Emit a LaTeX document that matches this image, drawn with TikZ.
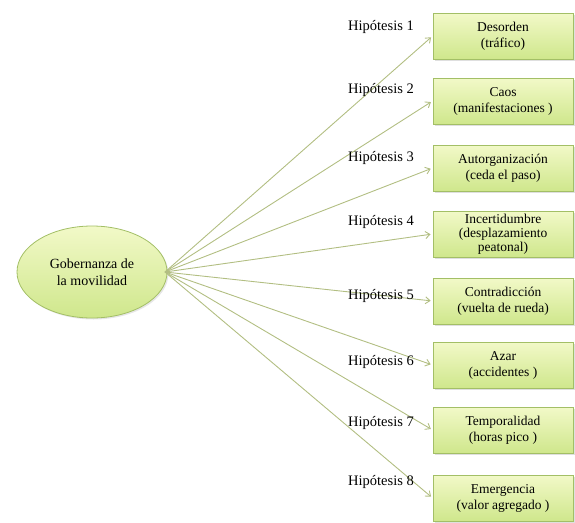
\documentclass[tikz,border=0pt]{standalone}
\usepackage{fontspec}
\setmainfont{Liberation Serif}
\usetikzlibrary{arrows.meta,shadows,shapes.geometric}
\definecolor{boxtop}{HTML}{F2F9C8}
\definecolor{boxbot}{HTML}{CFE78C}
\definecolor{boxline}{HTML}{A3BF66}
\definecolor{arrowc}{HTML}{B2BE82}
\tikzset{
  hbox/.style={draw=boxline, line width=0.8pt, top color=boxtop, bottom color=boxbot,
    minimum width=140pt, minimum height=46pt, inner sep=1pt, align=center,
    font=\fontsize{13.5}{16}\selectfont,
    drop shadow={shadow xshift=1.5pt, shadow yshift=-1.5pt, opacity=0.25, fill=gray}},
  hlabel/.style={font=\fontsize{14.5}{16}\selectfont, inner sep=0pt},
  harrow/.style={draw=arrowc, line width=0.9pt, -{Straight Barb[length=4.5pt,width=7pt]}, shorten >=2pt},
  gov/.style={ellipse, draw=boxline, line width=0.8pt, top color=boxtop, bottom color=boxbot,
    minimum width=150pt, minimum height=92pt, align=center, inner sep=0pt,
    font=\fontsize{14}{17}\selectfont,
    drop shadow={shadow xshift=1.5pt, shadow yshift=-1.5pt, opacity=0.2, fill=gray}}
}
\begin{document}
\begin{tikzpicture}[x=1pt,y=-1pt]
\useasboundingbox (0,0) rectangle (575,522);
\node[gov] (g) at (92,272) {Gobernanza de\\la movilidad};
\node[hbox] (b1) at (503,36) {Desorden\\(tráfico)};
\node[hbox] (b2) at (503,101) {Caos\\(manifestaciones )};
\node[hbox] (b3) at (503,168) {Autorganización\\(ceda el paso)};
\node[hbox,font=\fontsize{13.5}{14}\selectfont] (b4) at (503,234) {Incertidumbre\\(desplazamiento\\peatonal)};
\node[hbox] (b5) at (503,301) {Contradicción\\(vuelta de rueda)};
\node[hbox] (b6) at (503,365) {Azar\\(accidentes )};
\node[hbox] (b7) at (503,430) {Temporalidad\\(horas pico )};
\node[hbox] (b8) at (503,498) {Emergencia\\(valor agregado )};
\coordinate (hub) at (165,272);
\foreach \i in {1,...,8} {
  \draw[harrow] (hub) -- (b\i.west);
}
\node[hlabel] (l1) at (381,27) {Hipótesis 1};
\node[hlabel] (l2) at (381,90) {Hipótesis 2};
\node[hlabel] (l3) at (381,158) {Hipótesis 3};
\node[hlabel] (l4) at (381,222) {Hipótesis 4};
\node[hlabel] (l5) at (381,296) {Hipótesis 5};
\node[hlabel] (l6) at (381,362) {Hipótesis 6};
\node[hlabel] (l7) at (381,423) {Hipótesis 7};
\node[hlabel] (l8) at (381,482) {Hipótesis 8};
\end{tikzpicture}
\end{document}
